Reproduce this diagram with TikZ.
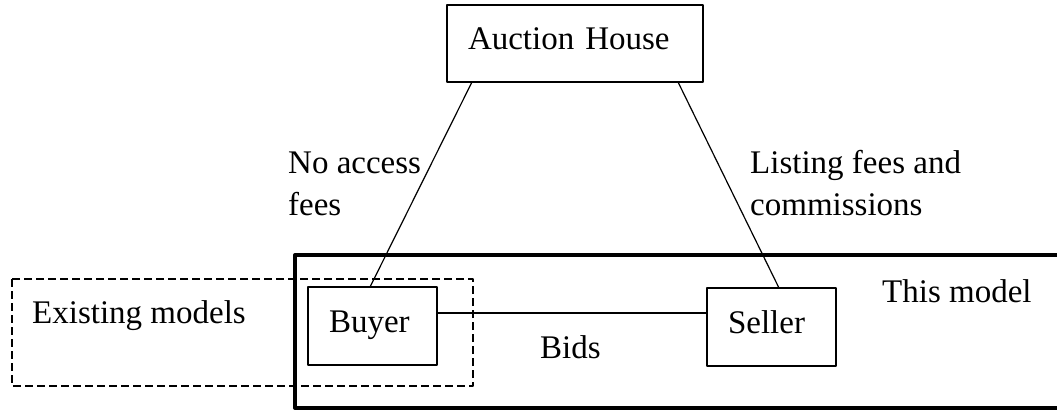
\documentclass[tikz,border=0pt]{standalone}
\usepackage{fontspec}
\setmainfont{Liberation Serif}
\begin{document}
\begin{tikzpicture}[x=1pt,y=-1pt,line join=round,
    font=\fontsize{33}{42}\selectfont,
    party/.style={draw,line width=1.4pt,outer sep=0pt,inner ysep=0pt,inner xsep=21pt,
      text width=87pt,align=left,text height=45pt,text depth=33pt,anchor=north west},
    wire/.style={line width=1.2pt},
    lbl/.style={inner sep=0pt,anchor=base west,align=left}]
  \useasboundingbox (0,0) rectangle (1057,412);
  \clip (0,0) rectangle (1057,412);
  % frames
  \draw[line width=4pt] (295,255) rectangle (1070,408);
  \draw[dash pattern=on 8pt off 4pt,line width=1.3pt] (12,279) rectangle (473,386);
  % parties
  \node[party,text width=214pt,text height=44pt] (auction) at (447,5) {Auction House};
  \node[party] (buyer) at (308,287) {Buyer};
  \node[party] (seller) at (707,288) {Seller};
  \draw[wire] ([xshift=25pt]auction.south west) -- ([xshift=62pt]buyer.north west);
  \draw[wire] ([xshift=-25pt]auction.south east) -- ([xshift=72pt]seller.north west);
  \draw[wire] ([yshift=-26pt]buyer.north east) -- ([yshift=-25pt]seller.north west);
  % texts (base = last line)
  \node[lbl] (noaccess) at (288,215) {No access\\fees};
  \node[lbl] (listing) at (750,215) {Listing fees and\\commissions};
  \node[lbl] (existing) at (32,323) {Existing models};
  \node[lbl] (thismodel) at (882,302) {This model};
  \node[lbl] (bids) at (540,358) {Bids};
\end{tikzpicture}
\end{document}
